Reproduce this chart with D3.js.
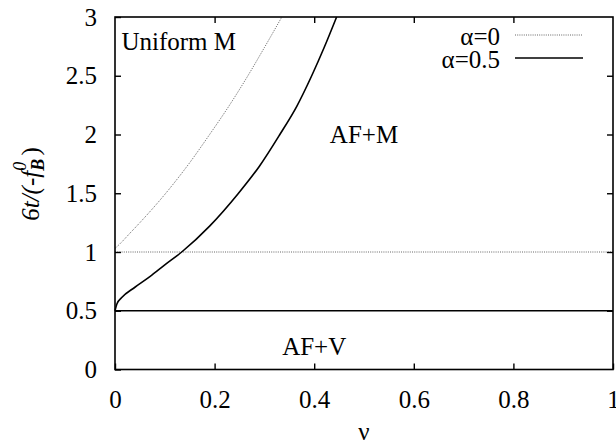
<!DOCTYPE html>
<html>
<head>
<meta charset="utf-8">
<script src="https://cdn.jsdelivr.net/npm/d3@7"></script>
</head>
<body style="margin:0;background:#fff">
<svg id="mainFrame"></svg>
<script>
// values
const nuAlpha0 = [0, 0.01, 0.03, 0.05, 0.1, 0.15, 0.19, 0.23, 0.264, 0.30, 0.335]
const tAlpha0  = [1.03, 1.07, 1.16, 1.25, 1.49, 1.76, 2.0, 2.25, 2.48, 2.74, 3.0]
const nuAlpha05 = [0, 0.004, 0.013, 0.04, 0.07, 0.1, 0.134, 0.19, 0.248, 0.29, 0.331, 0.365, 0.395, 0.42, 0.445]
const tAlpha05  = [0.5, 0.56, 0.61, 0.70, 0.79, 0.89, 1.0, 1.22, 1.5, 1.73, 2.0, 2.24, 2.5, 2.74, 3.0]
const lowerNu = [0, 1]
const lowerAlpha0 = [1, 1]
const lowerAlpha05 = [0.5, 0.5]
const xTicks = [0, 0.2, 0.4, 0.6, 0.8, 1]
const yTicks = [0, 0.5, 1, 1.5, 2, 2.5, 3]
const legendLabels = ['\u03b1=0', '\u03b1=0.5']
const regionLabels = [
    {text: 'Uniform M', nu: 0.013, t: 2.72, anchor: 'start'},
    {text: 'AF+M', nu: 0.5, t: 1.93, anchor: 'middle'},
    {text: 'AF+V', nu: 0.4, t: 0.12, anchor: 'middle'}
]

const serif = '"Liberation Serif", "Times New Roman", serif'
const width = 616, height = 445
const margin = {top: 17, right: 3, bottom: 75.5, left: 115}
const innerW = width - margin.left - margin.right
const innerH = height - margin.top - margin.bottom

const svg = d3.select('#mainFrame')
    .attr('width', width)
    .attr('height', height)

const g = svg.append('g')
    .attr('transform', `translate(${margin.left},${margin.top})`)

const x = d3.scaleLinear().domain([0, 1]).range([0, innerW])
const y = d3.scaleLinear().domain([0, 3]).range([innerH, 0])

const dotted = {stroke: '#666', width: 1, dash: '1,1.2'}
const solid = {stroke: '#000', width: 1.6, dash: null}

const zip = (a, b) => a.map((v, i) => [v, b[i]])
const series = [
    {pts: zip(nuAlpha0, tAlpha0), style: dotted},
    {pts: zip(lowerNu, lowerAlpha0), style: dotted},
    {pts: zip(nuAlpha05, tAlpha05), style: solid},
    {pts: zip(lowerNu, lowerAlpha05), style: solid}
]

const line = d3.line()
    .x(d => x(d[0]))
    .y(d => y(d[1]))
    .curve(d3.curveMonotoneX)

g.selectAll('path.curve')
    .data(series)
    .join('path')
    .attr('class', 'curve')
    .attr('d', d => line(d.pts))
    .attr('fill', 'none')
    .attr('stroke', d => d.style.stroke)
    .attr('stroke-width', d => d.style.width)
    .attr('stroke-dasharray', d => d.style.dash)

// axes, ticks pointing inward, mirrored on top and right
const tickLen = 6
const styleAxis = sel => {
    sel.attr('font-family', serif)
    sel.select('.domain').remove()
    sel.selectAll('line').attr('stroke', '#000').attr('stroke-width', 1.4)
    sel.selectAll('text').style('font-size', '25px')
}

g.append('g')
    .attr('transform', `translate(0,${innerH})`)
    .call(d3.axisBottom(x).tickValues(xTicks).tickSize(-tickLen).tickPadding(tickLen + 15).tickFormat(d3.format('')))
    .call(styleAxis)

g.append('g')
    .call(d3.axisLeft(y).tickValues(yTicks).tickSize(-tickLen).tickPadding(tickLen + 12).tickFormat(d3.format('')))
    .call(styleAxis)

g.append('g')
    .call(d3.axisTop(x).tickValues(xTicks.slice(1, -1)).tickSize(-tickLen).tickFormat(''))
    .call(styleAxis)

g.append('g')
    .attr('transform', `translate(${innerW},0)`)
    .call(d3.axisRight(y).tickValues(yTicks.slice(1, -1)).tickSize(-tickLen).tickFormat(''))
    .call(styleAxis)

g.append('rect')
    .attr('width', innerW)
    .attr('height', innerH)
    .attr('fill', 'none')
    .attr('stroke', '#000')
    .attr('stroke-width', 1.6)

// region labels
g.selectAll('text.region')
    .data(regionLabels)
    .join('text')
    .attr('class', 'region')
    .attr('x', d => x(d.nu))
    .attr('y', d => y(d.t))
    .attr('text-anchor', d => d.anchor)
    .style('font-size', '25px')
    .text(d => d.text)

// legend
const legend = g.append('g')
    .attr('transform', `translate(${innerW},0)`)
const legendStyles = [dotted, solid]
legendLabels.forEach((lab, i) => {
    const yy = 28 + i * 23
    legend.append('text')
        .attr('x', -113)
        .attr('y', yy)
        .attr('text-anchor', 'end')
        .style('font-size', '25px')
        .text(lab)
    legend.append('line')
        .attr('x1', -98).attr('x2', -30)
        .attr('y1', yy - 10).attr('y2', yy - 10)
        .attr('stroke', legendStyles[i].stroke)
        .attr('stroke-width', legendStyles[i].width)
        .attr('stroke-dasharray', legendStyles[i].dash)
})

// axis titles
svg.append('text')
    .attr('x', margin.left + innerW / 2)
    .attr('y', 440)
    .attr('text-anchor', 'middle')
    .style('font-size', '25px')
    .text('\u03bd')

const yTitle = svg.append('text')
    .attr('transform', 'translate(39,184) rotate(-90)')
    .attr('text-anchor', 'middle')
    .style('font-size', '25px')
    .style('font-style', 'italic')
yTitle.append('tspan').text('6t/(-f')
yTitle.append('tspan').attr('dy', 5).style('font-size', '18px').style('font-weight', 'bold').text('B')
yTitle.append('tspan').attr('dx', -12).attr('dy', -18).style('font-size', '18px').text('0')
yTitle.append('tspan').attr('dy', 13).style('font-style', 'normal').text(' )')

svg.selectAll('text').style('font-family', serif).style('fill', '#000')
</script>
</body>
</html>
